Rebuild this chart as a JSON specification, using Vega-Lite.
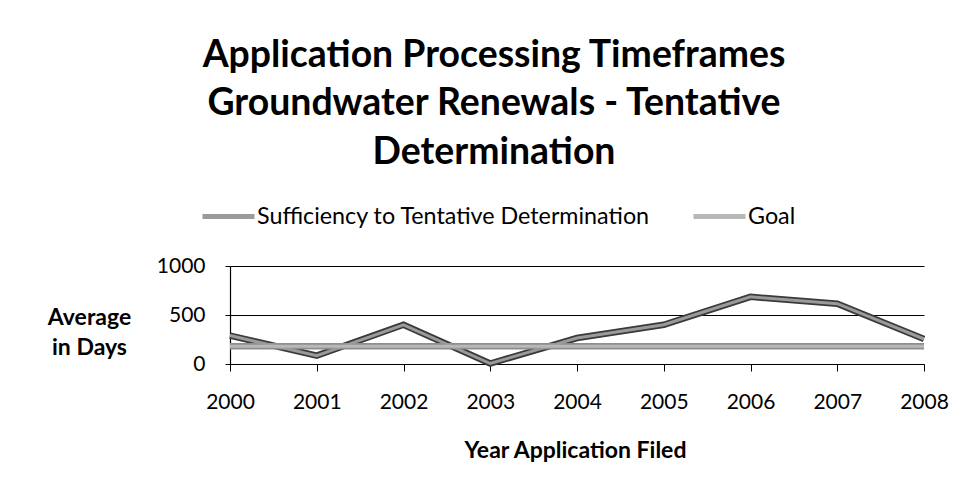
{
  "$schema": "https://vega.github.io/schema/vega-lite/v6.json",
  "width": 694,
  "height": 98,
  "autosize": {"type": "none"},
  "padding": {"left": 230, "top": 266, "right": 45, "bottom": 134},
  "background": "white",
  "config": {
    "font": "Lato",
    "view": {"stroke": null},
    "axis": {"labelColor": "black", "titleColor": "black", "labelFont": "Lato", "titleFont": "Lato"}
  },
  "title": {
    "text": ["Application Processing Timeframes", "Groundwater Renewals - Tentative", "Determination"],
    "anchor": "middle",
    "frame": "group",
    "dx": -83,
    "offset": 17,
    "font": "Lato",
    "fontSize": 37.4,
    "fontWeight": "bold",
    "lineHeight": 48.5,
    "color": "black"
  },
  "data": {
    "values": [
      {"year": "2000", "series": "Sufficiency to Tentative Determination", "days": 290},
      {"year": "2001", "series": "Sufficiency to Tentative Determination", "days": 85},
      {"year": "2002", "series": "Sufficiency to Tentative Determination", "days": 400},
      {"year": "2003", "series": "Sufficiency to Tentative Determination", "days": 5},
      {"year": "2004", "series": "Sufficiency to Tentative Determination", "days": 265},
      {"year": "2005", "series": "Sufficiency to Tentative Determination", "days": 400},
      {"year": "2006", "series": "Sufficiency to Tentative Determination", "days": 685},
      {"year": "2007", "series": "Sufficiency to Tentative Determination", "days": 615},
      {"year": "2008", "series": "Sufficiency to Tentative Determination", "days": 255},
      {"year": "2000", "series": "Goal", "days": 180},
      {"year": "2001", "series": "Goal", "days": 180},
      {"year": "2002", "series": "Goal", "days": 180},
      {"year": "2003", "series": "Goal", "days": 180},
      {"year": "2004", "series": "Goal", "days": 180},
      {"year": "2005", "series": "Goal", "days": 180},
      {"year": "2006", "series": "Goal", "days": 180},
      {"year": "2007", "series": "Goal", "days": 180},
      {"year": "2008", "series": "Goal", "days": 180}
    ]
  },
  "encoding": {
    "x": {
      "field": "year", "type": "ordinal",
      "scale": {"type": "point", "padding": 0},
      "axis": {
        "labelAngle": 0, "labelFontSize": 21, "labelPadding": 20,
        "tickSize": 7, "tickColor": "black", "domainColor": "black", "domainWidth": 1.2,
        "title": "Year Application Filed", "titleFontSize": 23, "titleFontWeight": "bold",
        "titleBaseline": "middle", "titleY": 86, "titleX": 345, "titleAlign": "center"
      }
    },
    "y": {
      "field": "days", "type": "quantitative",
      "scale": {"domain": [0, 1000], "nice": false},
      "axis": {
        "values": [0, 500, 1000], "format": "d", "labelFontSize": 21, "labelPadding": 20, "tickSize": 5,
        "tickColor": "black", "domainColor": "black", "domainWidth": 1.2,
        "grid": true, "gridColor": "black", "gridOpacity": 1, "gridWidth": 1.2,
        "title": ["Average", "in Days"], "titleAngle": 0, "titleFontSize": 23, "titleFontWeight": "bold",
        "titleAlign": "center", "titleBaseline": "middle", "titleLineHeight": 30,
        "titleX": -141, "titleY": 51
      }
    }
  },
  "layer": [
    {
      "mark": {"type": "line", "strokeWidth": 6.5},
      "encoding": {
        "detail": {"field": "series"},
        "color": {"condition": {"test": "datum.series === 'Goal'", "value": "#8e8e8e"}, "value": "#3a3a3a"}
      }
    },
    {
      "mark": {"type": "line", "strokeWidth": 3},
      "encoding": {
        "color": {
          "field": "series", "type": "nominal",
          "scale": {"domain": ["Sufficiency to Tentative Determination", "Goal"], "range": ["#9a9a9a", "#b8b8b8"]},
          "legend": {
            "orient": "none", "legendX": -30, "legendY": -78, "direction": "horizontal", "title": null,
            "symbolType": "stroke", "symbolSize": 2704, "symbolStrokeWidth": 5,
            "labelFontSize": 23.3, "labelFont": "Lato", "labelColor": "black",
            "labelOffset": 0, "columnPadding": 32, "labelLimit": 0
          }
        }
      }
    }
  ]
}
